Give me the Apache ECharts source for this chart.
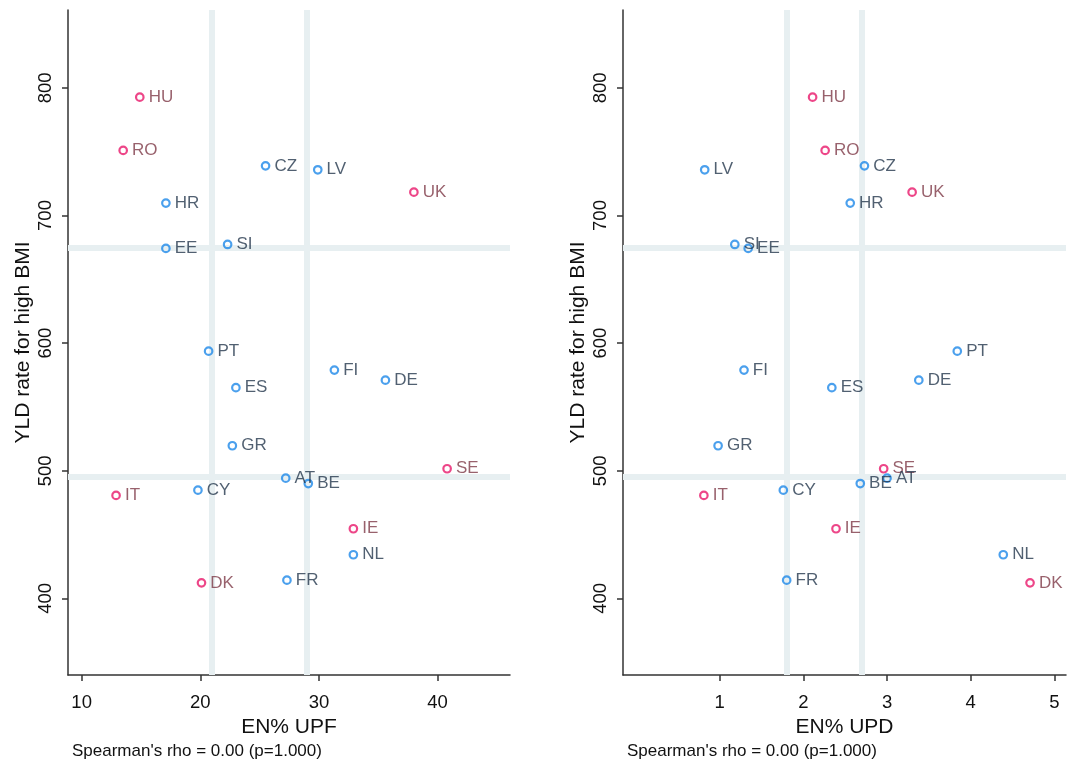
<!DOCTYPE html>
<html>
<head>
<meta charset="utf-8">
<style>
  html, body { margin: 0; padding: 0; background: #ffffff; }
  #chart { width: 1068px; height: 766px; }
</style>
<script src="https://cdn.jsdelivr.net/npm/echarts@6/dist/echarts.min.js"></script>
</head>
<body>
<div id="chart"></div>
<script>
// Country codes and their values
const countries = ['HU','RO','CZ','LV','UK','HR','EE','SI','PT','FI','DE','ES','GR','SE','AT','BE','CY','IT','IE','NL','FR','DK'];
// Energy share of ultra-processed foods (%)
const upf = [14.9, 13.5, 25.5, 29.9, 38.0, 17.1, 17.1, 22.3, 20.7, 31.3, 35.6, 23.0, 22.7, 40.8, 27.2, 29.1, 19.8, 12.9, 32.9, 32.9, 27.3, 20.1];
// Energy share of ultra-processed drinks (%)
const upd = [2.11, 2.26, 2.73, 0.82, 3.30, 2.56, 1.34, 1.18, 3.84, 1.29, 3.38, 2.34, 0.98, 2.96, 3.00, 2.68, 1.76, 0.81, 2.39, 4.39, 1.80, 4.71];
// YLD rate attributable to high BMI
const yld = [792.7, 751.0, 738.9, 735.8, 718.3, 709.7, 674.2, 677.3, 593.7, 578.9, 571.0, 565.1, 519.6, 501.6, 494.2, 490.0, 484.8, 480.7, 454.6, 434.2, 414.3, 412.2];
// Countries drawn in the highlight colour
const highlighted = ['HU','RO','UK','SE','IT','IE','DK'];

// Reference cut-points
const upfCuts = [21.0, 29.0];
const updCuts = [1.80, 2.70];
const yldCuts = [675, 495];

// Tick values
const yTicks = [400, 500, 600, 700, 800];
const upfTicks = [10, 20, 30, 40];
const updTicks = [1, 2, 3, 4, 5];

const yTitle = 'YLD rate for high BMI';
const upfTitle = 'EN% UPF';
const updTitle = 'EN% UPD';
const statText = "Spearman's rho = 0.00 (p=1.000)";

const FONT = '"Liberation Sans", Arial, sans-serif';
const PINK = '#e8186a', BLUE = '#1e88e8';
const PINK_LABEL = '#7e3a47', BLUE_LABEL = '#26384d';
const AXIS_COLOR = '#333333';
const REF_COLOR = '#e7eff1';

function points(xs) {
  return countries.map((c, i) => {
    const hi = highlighted.includes(c);
    return {
      name: c,
      value: [xs[i], yld[i]],
      itemStyle: { color: 'rgba(0,0,0,0)', borderColor: hi ? PINK : BLUE, borderWidth: 2.2 },
      label: { color: hi ? PINK_LABEL : BLUE_LABEL }
    };
  });
}

function xAxisOpt(gridIndex, min, max, ticks, title) {
  return {
    type: 'value', gridIndex, min, max,
    name: title, nameLocation: 'middle', nameGap: 39,
    nameTextStyle: { fontSize: 21, color: '#111111', fontFamily: FONT },
    axisLine: { show: true, onZero: false, lineStyle: { color: AXIS_COLOR, width: 1.5 } },
    axisTick: { show: true, length: 6, customValues: ticks, lineStyle: { color: AXIS_COLOR, width: 1.5 } },
    axisLabel: { customValues: ticks, fontSize: 18.5, color: '#111111', margin: 18, fontFamily: FONT },
    splitLine: { show: false }
  };
}

function yAxisOpt(gridIndex) {
  return {
    type: 'value', gridIndex, min: 340, max: 861,
    name: yTitle, nameLocation: 'middle', nameGap: 34,
    nameTextStyle: { fontSize: 21, color: '#111111', fontFamily: FONT },
    axisLine: { show: true, onZero: false, lineStyle: { color: AXIS_COLOR, width: 1.5 } },
    axisTick: { show: true, length: 6, customValues: yTicks, lineStyle: { color: AXIS_COLOR, width: 1.5 } },
    axisLabel: { customValues: yTicks, rotate: 90, fontSize: 18.5, color: '#111111', margin: 13, fontFamily: FONT },
    splitLine: { show: false }
  };
}

function scatterSeries(idx, xs, xCuts) {
  return {
    type: 'scatter', xAxisIndex: idx, yAxisIndex: idx,
    symbol: 'circle', symbolSize: 7.5, z: 3,
    data: points(xs),
    label: {
      show: true, position: 'right', distance: 4,
      formatter: p => p.name, fontSize: 17, fontFamily: FONT
    },
    emphasis: { disabled: true },
    markLine: {
      silent: true, symbol: 'none', z: 1, animation: false,
      label: { show: false },
      lineStyle: { color: REF_COLOR, width: 6, type: 'solid' },
      emphasis: { disabled: true },
      data: xCuts.map(v => ({ xAxis: v })).concat(yldCuts.map(v => ({ yAxis: v })))
    }
  };
}

const chart = echarts.init(document.getElementById('chart'), null, { renderer: 'canvas' });
chart.setOption({
  animation: false,
  backgroundColor: '#ffffff',
  textStyle: { fontFamily: FONT },
  grid: [
    { left: 68, top: 10, width: 442, height: 665 },
    { left: 623, top: 10, width: 443, height: 665 }
  ],
  xAxis: [
    xAxisOpt(0, 8.85, 46.1, upfTicks, upfTitle),
    xAxisOpt(1, -0.157, 5.14, updTicks, updTitle)
  ],
  yAxis: [yAxisOpt(0), yAxisOpt(1)],
  series: [
    scatterSeries(0, upf, upfCuts),
    scatterSeries(1, upd, updCuts)
  ],
  graphic: [
    { type: 'text', left: 72, top: 743, style: { text: statText, fontSize: 17, fill: '#111111', fontFamily: FONT } },
    { type: 'text', left: 627, top: 743, style: { text: statText, fontSize: 17, fill: '#111111', fontFamily: FONT } }
  ]
});
</script>
</body>
</html>
